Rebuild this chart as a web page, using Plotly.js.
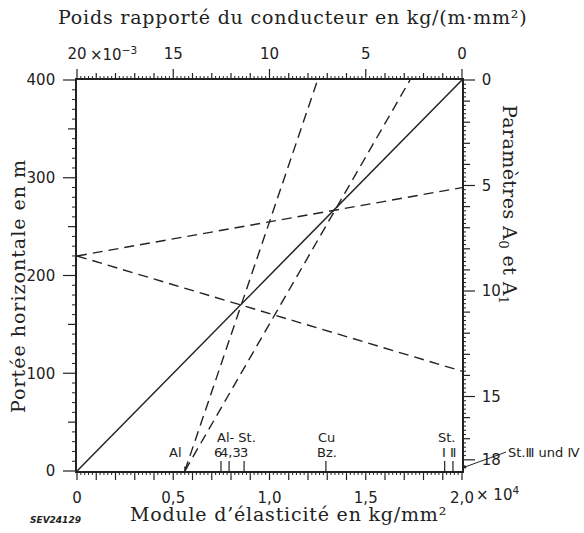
<!DOCTYPE html>
<html><head><meta charset="utf-8">
<script src="https://cdn.plot.ly/plotly-3.0.1.min.js"></script>
<style>body{margin:0;background:#fff}</style>
</head><body><div id="chart" style="width:584px;height:533px"></div>
<script>
// ---- data ----
const modulusLabels = {"0": "0", "0.5": "0,5", "1": "1,0", "1.5": "1,5", "2": "2,0"};
const weightLabels = [20, 15, 10, 5, 0];
const spanLabels = [0, 100, 200, 300, 400];
const paramLabels = [0, 5, 10, 15, 18];
const paramMax = 18;

const materialMarks = [0.748, 0.79, 0.868, 1.293, 1.91, 1.953];
const materialText = ["Al", "Al- St.", "6", "4,3", "3", "Cu", "Bz.", "St.", "Ⅰ Ⅱ"];
const materialTextX = [0.51, 0.826, 0.73, 0.795, 0.868, 1.294, 1.30, 1.922, 1.93];
const materialTextY = [19, 34, 19, 19, 19, 34, 19, 34, 19];

const solidModulus = [0, 2.0];
const solidSpan = [0, 400];
const alModulus = 0.56;
const weightTargets = [7.5, 2.7];
const spanPivot = 220;
const paramTargets = [5.1, 13.8];

// ---- axis ranges ----
const xRange = [0, 2.0];
const x2Range = [20, 0];
const yRange = [0, 400];
const y2Range = [18.53, 0];

function weightToModulus(w) { return xRange[0] + (w - x2Range[0]) / (x2Range[1] - x2Range[0]) * (xRange[1] - xRange[0]); }
function paramToSpan(p) { return yRange[0] + (p - y2Range[0]) / (y2Range[1] - y2Range[0]) * (yRange[1] - yRange[0]); }
function steps(a, b, s) { const r = []; const n = Math.round((b - a) / s); for (let i = 0; i <= n; i++) r.push(+(a + i * s).toFixed(4)); return r; }
function isMult(v, s) { return Math.abs(v / s - Math.round(v / s)) < 1e-6; }

const ink = '#222';
const dashStyle = '10px,6px';
const W = 584, H = 533, M = {l: 77, r: 122, t: 80, b: 62};
const plotW = W - M.l - M.r, plotH = H - M.t - M.b;

const traces = [];
traces.push({x: solidModulus, y: solidSpan, mode: 'lines', line: {color: ink, width: 1.5}, xaxis: 'x', yaxis: 'y'});
weightTargets.forEach(w => traces.push({x: [alModulus, weightToModulus(w)], y: [yRange[0], yRange[1]], mode: 'lines', line: {color: ink, width: 1.4, dash: dashStyle}, xaxis: 'x', yaxis: 'y'}));
paramTargets.forEach(p => traces.push({x: [xRange[0], xRange[1]], y: [spanPivot, paramToSpan(p)], mode: 'lines', line: {color: ink, width: 1.4, dash: dashStyle}, xaxis: 'x', yaxis: 'y'}));
traces.push({x: [null], y: [null], xaxis: 'x', yaxis: 'y2', mode: 'lines'});
traces.push({x: [null], y: [null], xaxis: 'x2', yaxis: 'y', mode: 'lines'});

const tickFont = {family: 'DejaVu Sans', size: 15, color: ink};
const serif = 'DejaVu Serif';
const base = {showgrid: false, zeroline: false, fixedrange: true, ticks: '', showline: true, linecolor: ink, linewidth: 1.8, tickfont: tickFont};

const layout = {
  width: W, height: H,
  margin: {l: M.l, r: M.r, t: M.t, b: M.b, pad: 0},
  showlegend: false, hovermode: false,
  xaxis: Object.assign({}, base, {range: xRange, tickmode: 'array', tickvals: Object.keys(modulusLabels).map(Number), ticktext: Object.values(modulusLabels), ticklabelstandoff: 12}),
  xaxis2: Object.assign({}, base, {overlaying: 'x', anchor: 'y', side: 'top', range: x2Range, tickmode: 'array', tickvals: weightLabels, ticktext: weightLabels.map(String), ticklabelstandoff: 13}),
  yaxis: Object.assign({}, base, {range: yRange, tickmode: 'array', tickvals: spanLabels, ticklabelstandoff: 17}),
  yaxis2: Object.assign({}, base, {overlaying: 'y', anchor: 'x', side: 'right', range: y2Range, tickmode: 'array', tickvals: paramLabels, ticklabelstandoff: 15}),
  annotations: []
};

const ann = layout.annotations;
function A(o) { ann.push(Object.assign({showarrow: false, xanchor: 'center', yanchor: 'middle'}, o)); }
const sp = (t, s) => '<span style="letter-spacing:' + s + 'px">' + t + '</span>';
const px = v => (v - M.l) / plotW, py = v => (H - M.b - v) / plotH;
A({xref: 'paper', yref: 'paper', x: px(292), y: py(17), text: sp('Poids rapporté du conducteur en kg/(m·mm²)', 0.8), font: {family: serif, size: 19, color: ink}});
A({xref: 'paper', yref: 'paper', x: px(288), y: py(514), text: sp('Module d’élasticité en kg/mm²', 0.8), font: {family: serif, size: 19, color: ink}});
A({xref: 'paper', yref: 'paper', x: px(18), y: py(286), text: sp('Portée horizontale en m', 1.0), textangle: -90, font: {family: serif, size: 19, color: ink}});
A({xref: 'paper', yref: 'paper', x: px(509), y: py(205), text: sp('Paramètres A<sub>0</sub> et A<sub>1</sub>', 0.4), textangle: 90, font: {family: serif, size: 19, color: ink}});
A({xref: 'x2', yref: 'paper', x: 19.45, y: py(54), xanchor: 'left', text: '×10<sup>−3</sup>', font: tickFont});
A({xref: 'paper', yref: 'paper', x: px(474), y: py(494), xanchor: 'left', text: '× 10<sup>4</sup>', font: tickFont});
materialText.forEach((t, i) => A({xref: 'x', yref: 'y', x: materialTextX[i], y: materialTextY[i], text: t, font: {family: 'DejaVu Sans', size: 13, color: ink}}));
ann.push({xref: 'x', yref: 'y', x: 2.0, y: 3, ax: 44, ay: -16, xanchor: 'left', yanchor: 'middle', text: 'St.Ⅲ und Ⅳ', showarrow: true, arrowhead: 2, arrowsize: 0.8, arrowwidth: 1, arrowcolor: ink, font: {family: 'DejaVu Sans', size: 13, color: ink}});
ann.push({xref: 'x', yref: 'y', x: alModulus, y: 0, ax: 4, ay: -14, text: ' ', showarrow: true, arrowhead: 2, arrowsize: 0.8, arrowwidth: 1, arrowcolor: ink, standoff: 0});
A({xref: 'paper', yref: 'paper', x: px(55), y: py(520), text: '<i><b>SEV24129</b></i>', font: {family: 'DejaVu Sans', size: 9, color: ink}});

// multi-level scale ticks, placed with the library's own axis scales (l2p)
function drawTicks(gd) {
  try {
    const fl = gd._fullLayout;
    if (!fl || !fl.xaxis || !fl.xaxis.l2p || !fl.xaxis2 || !fl.yaxis2) return;
    const svgs = gd.querySelectorAll('svg.main-svg');
    if (!svgs.length) return;
    const topSvg = svgs[svgs.length - 1];
    const ns = 'http://www.w3.org/2000/svg';
    const old = topSvg.querySelector('g.scale-ticks'); if (old) old.remove();
    const g = document.createElementNS(ns, 'g'); g.setAttribute('class', 'scale-ticks'); topSvg.appendChild(g);
    const xa = fl.xaxis, x2a = fl.xaxis2, ya = fl.yaxis, y2a = fl.yaxis2;
    const P = (ax, v) => ax._offset + ax.l2p(v);
    const left = xa._offset, right = xa._offset + xa._length, top = ya._offset, bottom = ya._offset + ya._length;
    const seg = (x1, y1, x2, y2, w) => {
      const l = document.createElementNS(ns, 'line');
      l.setAttribute('x1', x1); l.setAttribute('y1', y1); l.setAttribute('x2', x2); l.setAttribute('y2', y2);
      l.setAttribute('stroke', ink); l.setAttribute('stroke-width', w);
      g.appendChild(l);
    };
    steps(xRange[0], xRange[1], 0.02).forEach(v => { const big = isMult(v, 0.1); const x = P(xa, v); seg(x, bottom, x, bottom + (big ? 9 : 4), big ? 1.2 : 1); });
    steps(0, 20, 0.2).forEach(v => { const len = isMult(v, 5) ? 11 : isMult(v, 1) ? 7 : 4; const x = P(x2a, v); seg(x, top, x, top - len, len > 4 ? 1.2 : 1); });
    steps(yRange[0], yRange[1], 10).forEach(v => { const len = isMult(v, 100) ? 14 : isMult(v, 50) ? 9 : 5; const y = P(ya, v); seg(left, y, left - len, y, len > 5 ? 1.2 : 1); });
    steps(0, paramMax, 0.2).forEach(v => { const len = paramLabels.includes(v) ? 13 : isMult(v, 1) ? 8 : 4; const y = P(y2a, v); seg(right, y, right + len, y, len > 4 ? 1.2 : 1); });
    materialMarks.forEach(v => { const x = P(xa, v); seg(x, bottom, x, bottom - 10, 1.2); });
  } catch (e) { /* leave the plain plot */ }
}

const gdiv = document.getElementById('chart');
let pr;
try { pr = Plotly.newPlot(gdiv, traces, layout, {staticPlot: true}); } catch (e) {}
drawTicks(gdiv);
if (pr && pr.then) pr.then(() => drawTicks(gdiv)).catch(() => drawTicks(gdiv));
setTimeout(() => drawTicks(gdiv), 60);
setTimeout(() => drawTicks(gdiv), 400);
</script>
</body></html>
